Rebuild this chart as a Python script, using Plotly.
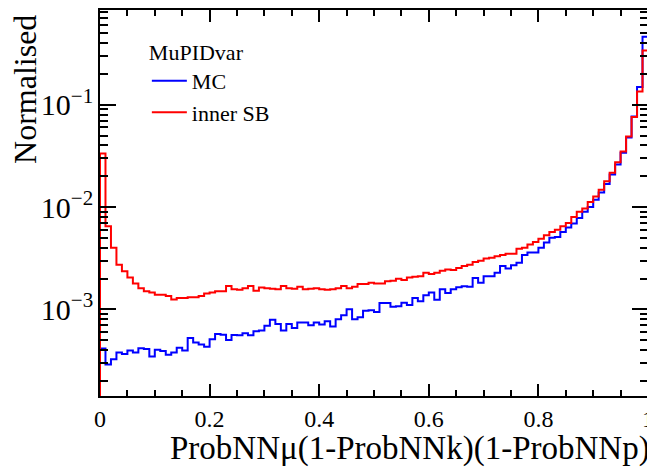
import numpy as np
import plotly.graph_objects as go

# ---- data ----
bin_lo, bin_hi, n_bins = 0.0, 1.0, 100

mc_values = [
    4.14e-4, 2.89e-4, 3.25e-4, 3.78e-4, 3.66e-4, 3.95e-4, 3.78e-4, 4.17e-4, 4.10e-4, 3.45e-4,
    4.01e-4, 3.90e-4, 3.60e-4, 3.78e-4, 4.20e-4, 3.95e-4, 5.25e-4, 4.73e-4, 4.52e-4, 4.30e-4,
    5.09e-4, 5.74e-4, 5.65e-4, 5.00e-4, 5.60e-4, 5.57e-4, 5.84e-4, 5.57e-4, 6.10e-4, 6.20e-4,
    6.89e-4, 7.88e-4, 7.20e-4, 6.20e-4, 7.20e-4, 6.58e-4, 7.41e-4, 7.41e-4, 6.99e-4, 7.41e-4,
    7.10e-4, 7.63e-4, 6.80e-4, 7.98e-4, 8.73e-4, 1.00e-3, 7.98e-4, 8.36e-4, 9.70e-4, 9.80e-4,
    9.42e-4, 1.15e-3, 1.15e-3, 1.06e-3, 1.07e-3, 1.16e-3, 1.10e-3, 1.29e-3, 1.20e-3, 1.37e-3,
    1.46e-3, 1.24e-3, 1.57e-3, 1.44e-3, 1.57e-3, 1.64e-3, 1.68e-3, 1.66e-3, 2.02e-3, 1.82e-3,
    2.11e-3, 2.11e-3, 2.28e-3, 2.65e-3, 2.50e-3, 2.70e-3, 2.85e-3, 3.40e-3, 3.60e-3, 3.60e-3,
    4.00e-3, 4.50e-3, 5.00e-3, 5.10e-3, 5.70e-3, 6.30e-3, 6.90e-3, 7.80e-3, 9.00e-3, 1.00e-2,
    1.18e-2, 1.39e-2, 1.68e-2, 2.08e-2, 2.60e-2, 3.40e-2, 4.80e-2, 7.70e-2, 0.149, 0.464,
]

sb_values = [
    0.0333, 0.0065, 0.0040, 0.00273, 0.00235, 0.00205, 0.00179, 0.00161, 0.00150, 0.00146,
    0.00139, 0.00139, 0.00135, 0.00125, 0.00129, 0.00129, 0.00131, 0.00131, 0.00135, 0.00143,
    0.00146, 0.00150, 0.00150, 0.00169, 0.00157, 0.00155, 0.00161, 0.00169, 0.00152, 0.00163,
    0.00161, 0.00159, 0.00157, 0.00169, 0.00161, 0.00159, 0.00166, 0.00157, 0.00159, 0.00161,
    0.00157, 0.00155, 0.00157, 0.00161, 0.00169, 0.00161, 0.00166, 0.00177, 0.00177, 0.00182,
    0.00179, 0.00179, 0.00188, 0.00190, 0.00199, 0.00193, 0.00205, 0.00208, 0.00210, 0.00228,
    0.00222, 0.00228, 0.00238, 0.00245, 0.00242, 0.00253, 0.00265, 0.00273, 0.00290, 0.00298,
    0.00313, 0.00320, 0.00331, 0.00340, 0.00350, 0.00350, 0.00390, 0.00400, 0.00430, 0.00455,
    0.00490, 0.00530, 0.00570, 0.00600, 0.00650, 0.00700, 0.00800, 0.00900, 0.00970, 0.01120,
    0.01270, 0.01480, 0.01790, 0.02160, 0.02740, 0.03500, 0.04900, 0.07600, 0.13500, 0.33900,
]

series_names = ["MC", "inner SB"]
legend_title = "MuPIDvar"
x_title = "ProbNNμ(1-ProbNNk)(1-ProbNNp)"
y_title = "Normalised"
x_tick_step = 0.2
y_range_log = [-3.848, -0.073]

# ---- build ----
edges = np.linspace(bin_lo, bin_hi, n_bins + 1)
floor = 10 ** (y_range_log[0] - 1)


def step_xy(vals):
    vals = np.asarray(vals, dtype=float)
    x = np.concatenate([[edges[0]], edges])
    y = np.concatenate([[floor], vals, [vals[-1]]])
    return x, y


FONT = "Liberation Serif, Times New Roman, serif"

fig = go.Figure()
for name, vals, color in [(series_names[0], mc_values, "#0000ff"),
                          (series_names[1], sb_values, "#ff0000")]:
    x, y = step_xy(vals)
    fig.add_trace(go.Scatter(x=x, y=y, mode="lines", name=name,
                             line=dict(color=color, width=2, shape="hv")))

# the page body has an 8px margin, so the figure is sized to fit the window
fig.update_layout(
    width=647, height=460,
    margin=dict(l=92, r=7, t=2, b=72, autoexpand=False),
    paper_bgcolor="white", plot_bgcolor="white",
    font=dict(family=FONT, color="black", size=24),
    showlegend=True,
    legend=dict(
        x=0.0855, y=0.945, xanchor="left", yanchor="top",
        bgcolor="rgba(0,0,0,0)",
        font=dict(family=FONT, size=22, color="black"),
        title=dict(text=legend_title, font=dict(family=FONT, size=22, color="black")),
        itemwidth=35,
    ),
    xaxis=dict(
        range=[bin_lo, bin_hi], tickmode="linear", tick0=bin_lo, dtick=x_tick_step,
        ticks="inside", ticklen=12, tickwidth=1.5, tickcolor="black",
        showline=True, linecolor="black", linewidth=2, mirror="allticks",
        showgrid=False, zeroline=False, ticklabeloverflow="allow",
        tickfont=dict(family=FONT, size=24, color="black"),
        minor=dict(dtick=0.05, ticks="inside", ticklen=6, tickwidth=1.5,
                   tickcolor="black", showgrid=False),
    ),
    yaxis=dict(
        type="log", range=y_range_log, dtick=1, exponentformat="power",
        ticks="inside", ticklen=16, tickwidth=1.5, tickcolor="black",
        showline=True, linecolor="black", linewidth=2, mirror="allticks",
        showgrid=False, zeroline=False,
        tickfont=dict(family=FONT, size=24, color="black"),
        minor=dict(dtick="D1", ticks="inside", ticklen=8, tickwidth=1.5,
                   tickcolor="black", showgrid=False),
    ),
    annotations=[
        dict(text=x_title, xref="paper", yref="paper", x=1.008, y=-0.137,
             xanchor="right", yanchor="middle", showarrow=False,
             font=dict(family=FONT, size=33, color="black")),
        dict(text=y_title, xref="paper", yref="paper", x=-0.138, y=0.992,
             xanchor="center", yanchor="top", textangle=-90, showarrow=False,
             font=dict(family=FONT, size=32, color="black")),
    ],
)

fig.write_html("out.html")
